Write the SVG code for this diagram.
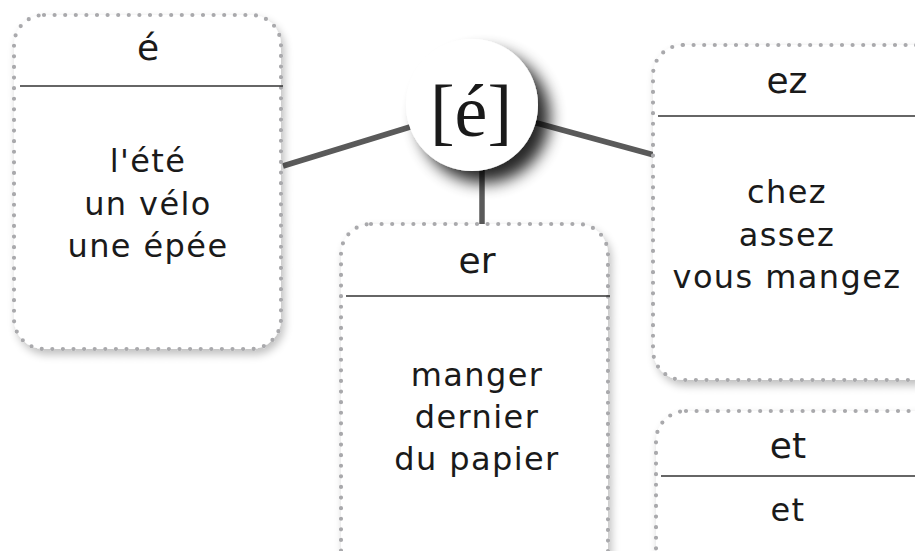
<svg xmlns="http://www.w3.org/2000/svg" width="915" height="551" viewBox="0 0 915 551">
<defs>
<filter id="sh" x="-20%" y="-20%" width="140%" height="140%">
<feGaussianBlur in="SourceAlpha" stdDeviation="4"/>
<feOffset dx="3" dy="5"/>
<feComponentTransfer><feFuncA type="linear" slope="0.25"/></feComponentTransfer>
<feMerge><feMergeNode/><feMergeNode in="SourceGraphic"/></feMerge>
</filter>
<filter id="csh" x="-40%" y="-40%" width="190%" height="190%">
<feGaussianBlur in="SourceAlpha" stdDeviation="8"/>
<feOffset dx="12" dy="12"/>
<feComponentTransfer><feFuncA type="linear" slope="0.85"/></feComponentTransfer>
<feMerge><feMergeNode/><feMergeNode in="SourceGraphic"/></feMerge>
</filter>
</defs>
<style>
.box{fill:#fff;stroke:#a9a9ac;stroke-width:4.2;stroke-linecap:round;stroke-dasharray:0 10.6}
.div{stroke:#333;stroke-width:1.6}
.t{font-family:"DejaVu Sans",sans-serif;fill:#1a1a1a;text-anchor:middle}
.h{font-size:36px}
.b{font-size:32px;letter-spacing:1.4px}
.c{stroke:#5a5a5a;stroke-width:5.5;fill:none}
</style>
<rect width="915" height="551" fill="#fff"/>
<g id="connectors">
<line class="c" x1="283" y1="166" x2="410" y2="127"/>
<line class="c" x1="533" y1="122" x2="654" y2="155"/>
<line class="c" x1="482" y1="165" x2="482" y2="225"/>
</g>
<g id="node-e">
<rect class="box" x="14" y="15" width="267" height="334" rx="30" filter="url(#sh)"/>
<line class="div" x1="20" y1="86" x2="283" y2="86"/>
<text class="t h" x="148" y="60">é</text>
<text class="t b" x="148" y="172">l'été</text>
<text class="t b" x="148" y="215">un vélo</text>
<text class="t b" x="148" y="257">une épée</text>
</g>
<g id="node-ez">
<rect class="box" x="653" y="45" width="290" height="335" rx="30" filter="url(#sh)"/>
<line class="div" x1="658" y1="116" x2="915" y2="116"/>
<text class="t h" x="787" y="93">ez</text>
<text class="t b" x="787" y="203">chez</text>
<text class="t b" x="787" y="246">assez</text>
<text class="t b" x="787" y="288">vous mangez</text>
</g>
<g id="node-er">
<rect class="box" x="341" y="224" width="267" height="360" rx="30" filter="url(#sh)"/>
<line class="div" x1="346" y1="296" x2="610" y2="296"/>
<text class="t h" x="477" y="273">er</text>
<text class="t b" x="477" y="386">manger</text>
<text class="t b" x="477" y="428">dernier</text>
<text class="t b" x="477" y="470">du papier</text>
</g>
<g id="node-et">
<rect class="box" x="656" y="411" width="290" height="200" rx="30" filter="url(#sh)"/>
<line class="div" x1="661" y1="476" x2="915" y2="476"/>
<text class="t h" x="788" y="458">et</text>
<text class="t b" x="788" y="521">et</text>
</g>
<g id="node-center">
<circle cx="472" cy="105" r="66" fill="#fff" filter="url(#csh)"/>
<text x="471" y="136" font-family="'Liberation Serif',serif" font-size="74" fill="#1a1a1a" text-anchor="middle">[é]</text>
</g>
</svg>
